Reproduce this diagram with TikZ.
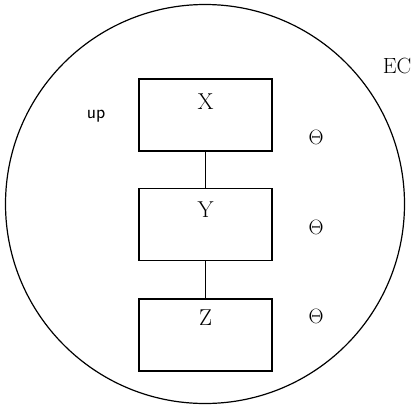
\documentclass[tikz,border=0pt]{standalone}
\usepackage{tikz}
\usetikzlibrary{positioning}
\tikzset{
  unit/.style={draw, line width=1.6pt, minimum width=133pt, minimum height=72pt, inner sep=0pt},
  unitlbl/.style={font=\fontsize{23}{26}\selectfont, inner sep=0pt},
  theta/.style={font=\fontsize{22}{26}\selectfont, inner sep=0pt},
  link/.style={draw, line width=1.6pt}
}
\begin{document}
\begin{tikzpicture}[x=1pt, y=-1pt]
    \useasboundingbox (0,0) rectangle (417,405);
    \node[draw, circle, line width=1.2pt, minimum size=399pt, inner sep=0pt] (ec) at (205,204) {};

    \node[unit] (x) at (205.5,115) {};
    \node[unit, below=36pt of x] (y) {};
    \node[unit, below=37pt of y] (z) {};

    \node[unitlbl] (xlbl) at (205.5,102) {X};
    \node[unitlbl] (ylbl) at (205.5,210) {Y};
    \node[unitlbl] (zlbl) at (205.5,318) {Z};

    \draw[link] (x) -- (y);
    \draw[link] (y) -- (z);

    \node[font=\sffamily\fontsize{19}{22}\selectfont, inner sep=0pt] (up) at (96,116) {up};
    \node[theta] (th1) at (316,137) {$\Theta$};
    \node[theta] (th2) at (316,227) {$\Theta$};
    \node[theta] (th3) at (316,316) {$\Theta$};
    \node[font=\fontsize{22}{26}\selectfont, inner sep=0pt] (eclbl) at (397,66) {EC};
\end{tikzpicture}
\end{document}
